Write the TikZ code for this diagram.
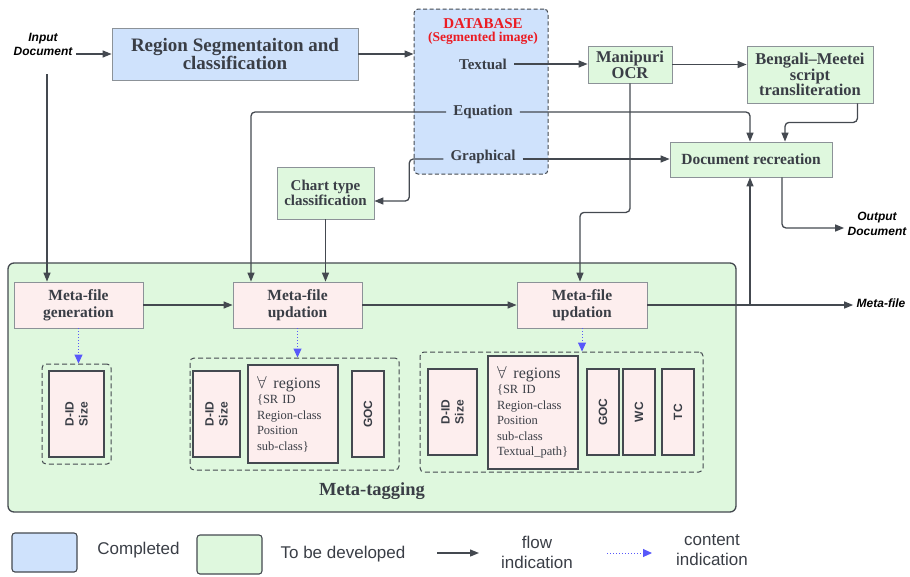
\documentclass[tikz,border=0pt]{standalone}
\usepackage{fontspec}
\setmainfont{Liberation Serif}
\setsansfont{Liberation Sans}
\usetikzlibrary{arrows.meta}

\definecolor{donefill}{RGB}{207,226,252}
\definecolor{todofill}{RGB}{223,248,222}
\definecolor{metafill}{RGB}{253,238,238}
\definecolor{lightedge}{RGB}{140,146,152}
\definecolor{darkedge}{RGB}{68,73,80}
\definecolor{inkgray}{RGB}{58,62,70}
\definecolor{dbred}{RGB}{235,28,36}
\definecolor{contentblue}{RGB}{88,88,250}

\newcommand{\fsz}[2]{\fontsize{#1}{#2}\selectfont}

\begin{document}
\begin{tikzpicture}
[x=1pt,y=-1pt,
  donebox/.style={shape=rectangle,draw=lightedge,fill=donefill,line width=0.8pt,inner sep=0pt,text=inkgray,font=\bfseries,align=center},%
  todobox/.style={shape=rectangle,draw=lightedge,fill=todofill,line width=0.8pt,inner sep=0pt,text=inkgray,font=\bfseries,align=center},%
  metabox/.style={shape=rectangle,draw=lightedge,fill=metafill,line width=0.8pt,inner sep=0pt,text=inkgray,font=\bfseries\fsz{15.5}{17},align=center,minimum width=130,minimum height=46},%
  fieldbox/.style={shape=rectangle,draw=darkedge,fill=metafill,line width=1.2pt,inner sep=0pt,text=inkgray,font=\sffamily\bfseries\fsz{12}{14},align=center,rotate=90,minimum width=86},%
  regionbox/.style={shape=rectangle,draw=darkedge,fill=metafill,line width=1.2pt,inner xsep=9pt,inner ysep=0pt,text=inkgray,font=\fsz{12.5}{15.5},align=left,text width=72},%
  groupbox/.style={shape=rectangle,draw=darkedge,dash pattern=on 5pt off 3pt,line width=1pt,rounded corners=4pt},%
  dblabel/.style={text=inkgray,inner xsep=7pt,font=\bfseries\fsz{15}{16}},%
  sidelabel/.style={text=black,font=\sffamily\bfseries\itshape\fsz{12}{14.5},align=center},%
  legendtext/.style={text=inkgray,font=\sffamily\fsz{17}{20},align=center},%
  linedecorate/.style={draw=darkedge,line width=1.3pt,rounded corners=4pt,-{Triangle[length=9pt,width=7pt]}},%
  contentline/.style={draw=contentblue,line width=1pt,dotted,-{Triangle[length=9pt,width=8pt]}}]
\useasboundingbox (0,0) rectangle (910,576);

%% meta-tagging area
\node (metatag) at (372,387.5) [shape=rectangle,draw=darkedge,fill=todofill,line width=1.3pt,rounded corners=6pt,minimum width=728,minimum height=249] {};
\node (tagname) at (372,491) [text=inkgray,font=\bfseries\fsz{18.5}{20}] {Meta-tagging};

%% database
\node (db) at (481,91.5) [shape=rectangle,draw=darkedge,dash pattern=on 4pt off 2.5pt,fill=donefill,line width=1pt,rounded corners=4pt,minimum width=134,minimum height=165] {};
\node (dbtitle) at (483,24) [text=dbred,font=\bfseries\fsz{15}{16}] {DATABASE};
\node (dbsub) at (483,38) [text=dbred,font=\bfseries\fsz{13.5}{15}] {(Segmented image)};
\node (textual) at (483,64) [dblabel] {Textual};
\node (equation) at (483,112) [dblabel] {Equation};
\node (graphical) at (483,157) [dblabel] {Graphical};

%% processing blocks
\node (input) at (43,44.5) [sidelabel] {Input\\Document};
\node (region) at (235,54) [donebox,minimum width=246,minimum height=52,font=\bfseries\fsz{19}{18}] {Region Segmentaiton and\\classification};
\node (ocr) at (630,64.5) [todobox,minimum width=84,minimum height=37,font=\bfseries\fsz{16.5}{16}] {Manipuri\\OCR};
\node (translit) at (810,74.5) [todobox,minimum width=126,minimum height=57,font=\bfseries\fsz{16.5}{15.5}] {Bengali--Meetei\\script\\transliteration};
\node (docrec) at (751,159.5) [todobox,minimum width=162,minimum height=35,font=\bfseries\fsz{15.5}{17}] {Document recreation};
\node (chart) at (325.5,193) [todobox,minimum width=97,minimum height=52,font=\bfseries\fsz{15}{13.5}] {Chart type\\classification};
\node (output) at (877,224) [sidelabel] {Output\\Document};
\node (metafile) at (881,303) [sidelabel] {Meta-file};

%% meta-file steps
\node (gen) at (78.5,305) [metabox,minimum width=129] {Meta-file\\generation};
\node (upda) at (297.5,305) [metabox,minimum width=129] {Meta-file\\updation};
\node (updb) at (582,305) [metabox] {Meta-file\\updation};

%% field groups
\node (grpa) at (76.5,414) [groupbox,minimum width=69,minimum height=100] {};
\node (grpb) at (294.5,414) [groupbox,minimum width=209,minimum height=112] {};
\node (grpc) at (561.5,412) [groupbox,minimum width=283,minimum height=120] {};
\foreach \cellname/\x/\y/\w/\txt in {cellida/76.5/414/55/D-ID\\Size, cellidb/216.5/414/47/D-ID\\Size,
  cellgoca/368/414/32/GOC, cellidc/452.5/412/49/D-ID\\Size, cellgocb/603/412/32/GOC,
  cellwc/639/412/32/WC, celltc/678/412/32/TC} {
  \node (\cellname) at (\x,\y) [fieldbox,minimum height=\w] {\txt};
}
\node (cellrega) at (293,414) [regionbox,minimum height=98]
  {{\fsz{16}{18}$\forall$\,\ regions}\\\{SR ID\\Region-class\\Position\\sub-class\}};
\node (cellregb) at (533,412.5) [regionbox,minimum height=113]
  {{\fsz{16}{18}$\forall$\,\ regions}\\\{SR ID\\Region-class\\Position\\sub-class\\Textual\_path\}};

%% flow connectors
\coordinate (instart) at (47,74);
\draw[linedecorate] (input.east |- region.west) -- (region.west);
\draw[linedecorate] (instart) -- (instart |- gen.north);
\draw[linedecorate] (region.east) -- (region.east -| db.west);
\draw[linedecorate] (textual.east) -- (textual.east -| ocr.west);
\draw[linedecorate] (ocr.east) -- (ocr.east -| translit.west);
\draw[linedecorate] (equation.east) -| ([xshift=-1pt]docrec.north);
\draw[linedecorate] ([xshift=-16pt]translit.south east) -- ++(0,19) -| ([xshift=34pt]docrec.north);
\draw[linedecorate] ([yshift=-2pt]graphical.east) -- ([yshift=-2pt]graphical.east -| docrec.west);
\draw[linedecorate] ([yshift=-2pt]graphical.west) -- ++(-34,0) |- ([yshift=-8pt]chart.east);
\draw[linedecorate] (equation.west) -| ([xshift=-46.5pt]upda.north);
\draw[linedecorate] (chart.south) -- (chart.south |- upda.north);
\draw[linedecorate] (ocr.south) -- ++(0,129) -| ([xshift=-2pt]updb.north);
\draw[linedecorate] (gen.east) -- (upda.west);
\draw[linedecorate] (upda.east) -- (updb.west);
\draw[linedecorate] (updb.east) -- (updb.east -| metafile.west);
\draw[linedecorate] ([xshift=-1pt]docrec.south |- updb.east) -- ([xshift=-1pt]docrec.south);
\draw[linedecorate] ([xshift=31pt]docrec.south) |- ([yshift=-4pt]output.west);

%% content connectors
\draw[contentline] (gen.south) -- (gen.south |- grpa.north);
\draw[contentline] (upda.south) -- (upda.south |- grpb.north);
\draw[contentline] (updb.south) -- (updb.south |- grpc.north);

%% key
\node (keydone) at (44.5,552.5) [shape=rectangle,draw=darkedge,fill=donefill,line width=1.1pt,rounded corners=3pt,minimum width=65,minimum height=39] {};
\node (keydonetext) at (138.5,550) [legendtext] {Completed};
\node (keytodo) at (229.5,554.5) [shape=rectangle,draw=darkedge,fill=todofill,line width=1.1pt,rounded corners=3pt,minimum width=65,minimum height=39] {};
\node (keytodotext) at (343,554) [legendtext] {To be developed};
\coordinate (flowa) at (437,553);
\coordinate (flowb) at (479,553);
\draw[linedecorate] (flowa) -- (flowb);
\node (keyflow) at (537,552) [legendtext] {flow\\indication};
\coordinate (contenta) at (607,553);
\coordinate (contentb) at (652,553);
\draw[contentline] (contenta) -- (contentb);
\node (keycontent) at (712,550.5) [legendtext] {content\\indication};
\end{tikzpicture}
\end{document}
